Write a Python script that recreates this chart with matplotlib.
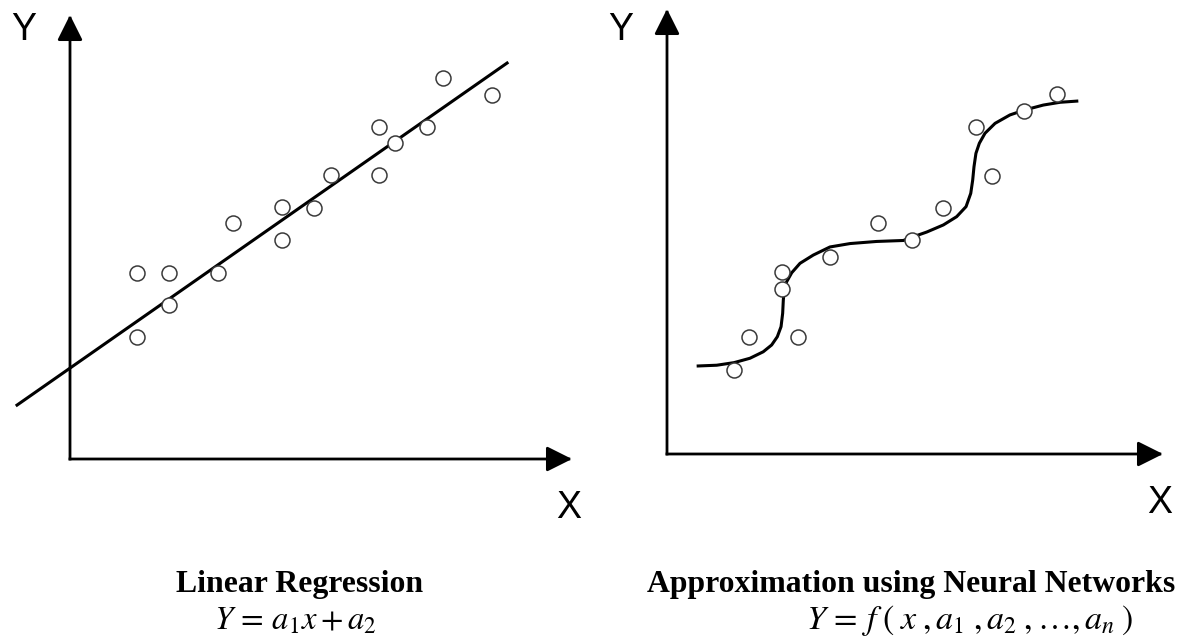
import matplotlib
matplotlib.use("Agg")
import matplotlib.pyplot as plt

W, H = 1195, 640
SCALE = 16.2  # pixels per data unit (layout)

# ---------------- data ----------------
# Left panel: observations and fitted line Y = a1*x + a2
lin_x = [4.14, 4.14, 6.11, 6.11, 9.14, 10.06, 13.09, 13.09, 15.06, 16.11,
         19.07, 19.07, 20.06, 22.04, 23.02, 26.05]
lin_y = [7.53, 11.48, 11.48, 9.51, 11.48, 14.57, 15.56, 13.52, 15.49, 17.53,
         20.49, 17.53, 19.51, 20.49, 23.52, 22.47]
fit_a1 = 0.698
fit_a2 = 5.61
fit_x_range = [-3.27, 26.98]

# Right panel: observations and neural-network approximation curve
nn_x = [4.14, 5.06, 7.10, 7.10, 8.09, 10.06, 13.02, 15.12, 17.04, 19.07,
        20.06, 22.04, 24.07]
nn_y = [5.19, 7.22, 11.23, 10.19, 7.22, 12.16, 14.26, 13.21, 15.19, 20.19,
        17.16, 21.17, 22.22]
curve_x = [1.83, 3.07, 4.14, 5.12, 5.94, 6.46, 6.81, 7.04, 7.14, 7.18,
           7.24, 7.39, 7.70, 8.21, 9.03, 10.06, 11.30, 12.94, 14.59,
           15.06, 16.03, 17.06, 17.88, 18.46, 18.75, 18.87, 18.95, 19.07,
           19.28, 19.63, 20.25, 21.17, 22.06, 23.23, 24.26, 25.39]
curve_y = [5.43, 5.48, 5.64, 5.91, 6.31, 6.73, 7.24, 7.86, 8.69, 9.51,
           10.12, 10.64, 11.19, 11.77, 12.28, 12.78, 12.99, 13.12, 13.18,
           13.36, 13.70, 14.14, 14.65, 15.27, 16.09, 16.91, 17.73, 18.56,
           19.18, 19.80, 20.41, 20.93, 21.23, 21.54, 21.71, 21.79]

titles = ["Linear Regression", "Approximation using Neural Networks"]
equations = [r"$Y\,=\,a_1x + a_2$",
             r"$Y\,=\,f\;\left(\;x\;,a_1\;,a_2\;,\ldots,a_n\;\right)$"]
axis_labels = ("X", "Y")

# ---------------- figure ----------------
plt.rcParams["mathtext.fontset"] = "stix"
fig = plt.figure(figsize=(W / 100, H / 100), dpi=100)
fig.patch.set_facecolor("white")


def make_panel(ox, oy, tipx, tipy):
    ax = fig.add_axes([ox / W, 1 - oy / H, (tipx - ox) / W, (oy - tipy) / H])
    ax.set_xlim(0, (tipx - ox) / SCALE)
    ax.set_ylim(0, (oy - tipy) / SCALE)
    ax.axis("off")
    style = "-|>,head_length=1.0,head_width=0.5"
    for end in [(1, 0), (0, 1)]:
        ax.annotate("", xy=end, xytext=(0, 0), xycoords="axes fraction",
                    textcoords="axes fraction",
                    arrowprops=dict(arrowstyle=style, lw=2.0, color="black",
                                    mutation_scale=15.5, shrinkA=0, shrinkB=0,
                                    capstyle="projecting"),
                    annotation_clip=False)
    return ax


marker_kw = dict(marker="o", ls="none", ms=10.8, mfc="white", mec="#3a3a3a",
                 mew=1.1, zorder=3, clip_on=False)

# Left panel
axL = make_panel(70, 459, 572, 15)
fx = fit_x_range
fy = [fit_a1 * v + fit_a2 for v in fx]
axL.plot(fx, fy, color="black", lw=2.2, clip_on=False, zorder=2)
axL.plot(lin_x, lin_y, **marker_kw)

# Right panel
axR = make_panel(667, 454, 1163, 9)
axR.plot(curve_x, curve_y, color="black", lw=2.2, clip_on=False, zorder=2,
         solid_joinstyle="round", solid_capstyle="butt")
axR.plot(nn_x, nn_y, **marker_kw)


def ftext(x, y, s, **kw):
    fig.text(x / W, 1 - y / H, s, **kw)


lab_kw = dict(fontsize=27, family="Liberation Sans", ha="center", va="baseline")
ftext(24, 40, axis_labels[1], **lab_kw)
ftext(569, 518, axis_labels[0], **lab_kw)
ftext(621, 40, axis_labels[1], **lab_kw)
ftext(1160, 513, axis_labels[0], **lab_kw)

title_kw = dict(fontsize=22.9, family="Liberation Serif", weight="bold",
                ha="center", va="baseline")
ftext(300, 592, titles[0], **title_kw)
ftext(911, 592, titles[1], **title_kw)

ftext(295, 629, equations[0], fontsize=23.5, ha="center", va="baseline")
ftext(970, 629, equations[1], fontsize=24.5, ha="center", va="baseline")

fig.savefig("out.png", dpi=100, facecolor="white")
